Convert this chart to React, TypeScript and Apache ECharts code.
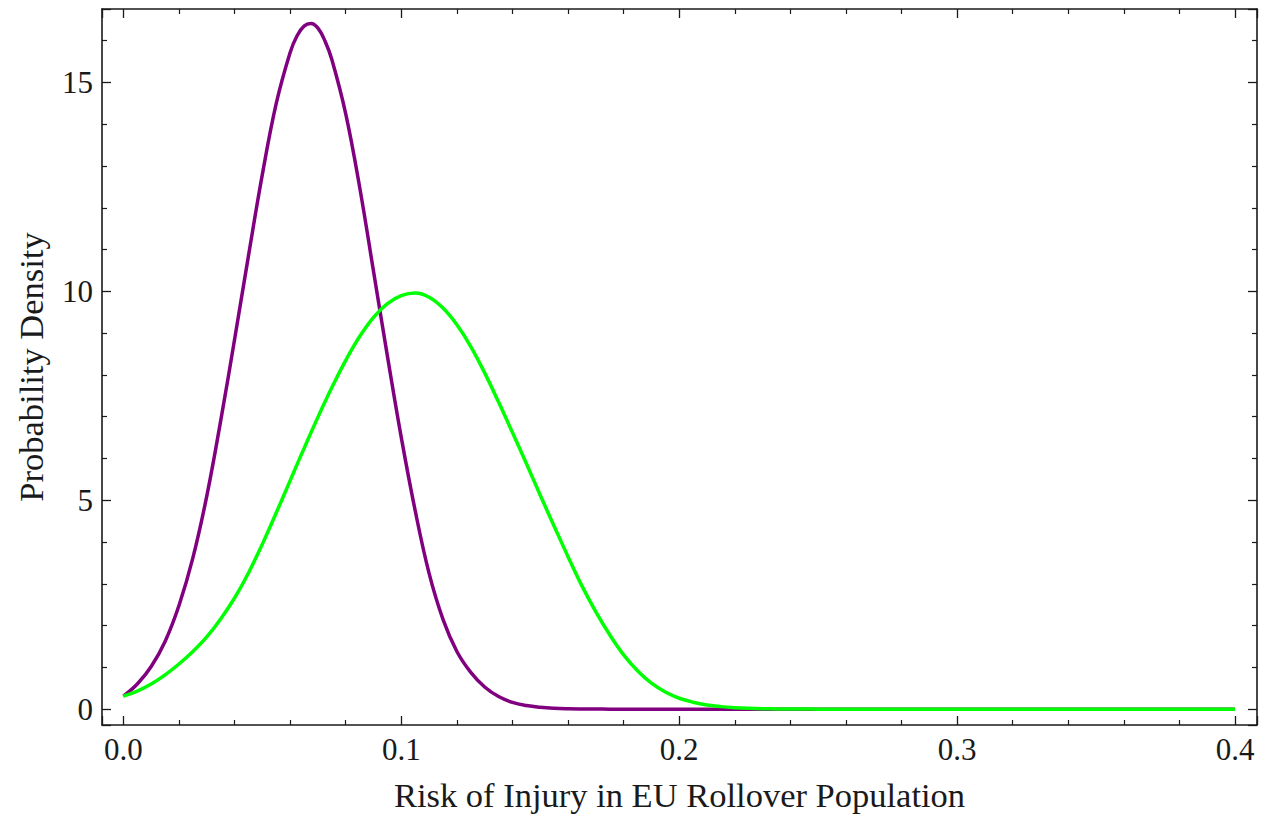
import React, { useEffect, useRef } from "react";
import * as echarts from "echarts";

const riskX = [
  0, 0.005, 0.01, 0.015, 0.02, 0.025, 0.03, 0.035, 0.04, 0.045,
  0.05, 0.055, 0.06, 0.0625, 0.065, 0.0675, 0.07, 0.0725, 0.075, 0.08,
  0.085, 0.09, 0.095, 0.1, 0.105, 0.11, 0.115, 0.12, 0.125, 0.13,
  0.135, 0.14, 0.145, 0.15, 0.155, 0.16, 0.165, 0.17, 0.175, 0.18,
  0.185, 0.19, 0.195, 0.2, 0.205, 0.21, 0.215, 0.22, 0.225, 0.23,
  0.235, 0.24, 0.245, 0.25, 0.3, 0.35, 0.4,
];

const purpleDensity = [
  0.31, 0.6, 1.02, 1.62, 2.48, 3.62, 5.1, 6.9, 8.85, 10.85,
  12.8, 14.5, 15.72, 16.12, 16.35, 16.41, 16.3, 16.0, 15.55, 14.25,
  12.5, 10.48, 8.45, 6.5, 4.75, 3.25, 2.15, 1.38, 0.88, 0.53,
  0.3, 0.16, 0.085, 0.043, 0.02, 0.009, 0.004, 0.0015, 0, 0,
  0, 0, 0, 0, 0, 0, 0, 0, 0, 0,
  0, 0, 0, 0, 0, 0, 0,
];

const greenDensity = [
  0.31, 0.43, 0.6, 0.82, 1.08, 1.38, 1.73, 2.16, 2.66, 3.26,
  3.95, 4.7, 5.47, 5.86, 6.24, 6.62, 6.99, 7.35, 7.7, 8.35,
  8.92, 9.38, 9.71, 9.9, 9.96, 9.86, 9.6, 9.2, 8.68, 8.05,
  7.35, 6.62, 5.88, 5.12, 4.38, 3.65, 2.95, 2.33, 1.78, 1.3,
  0.92, 0.62, 0.41, 0.26, 0.165, 0.1, 0.06, 0.035, 0.02, 0.011,
  0.006, 0.003, 0.001, 0, 0, 0, 0,
];

const xTitle = "Risk of Injury in EU Rollover Population";
const yTitle = "Probability Density";

const FONT = "'Liberation Serif', 'Times New Roman', serif";
const INK = "#1a1a1a";

export default function App() {
  const ref = useRef<HTMLDivElement>(null);

  useEffect(() => {
    if (!ref.current) return;
    const chart = echarts.init(ref.current, null, { renderer: "svg" });

    const frameLine = { show: true, lineStyle: { color: INK, width: 1.6 } };
    const tick = {
      show: true,
      inside: true,
      length: 9,
      lineStyle: { color: INK, width: 1.3 },
    };
    const minor = {
      show: true,
      splitNumber: 5,
      length: 5,
      lineStyle: { color: INK, width: 1.2 },
    };

    const xBase = {
      type: "value" as const,
      min: -0.0077,
      max: 0.4079,
      minInterval: 0.1,
      maxInterval: 0.1,
      axisLine: { ...frameLine, onZero: false },
      axisTick: tick,
      minorTick: minor,
      splitLine: { show: false },
    };
    const yBase = {
      type: "value" as const,
      min: -0.38,
      max: 16.76,
      minInterval: 5,
      maxInterval: 5,
      axisLine: { ...frameLine, onZero: false },
      axisTick: tick,
      minorTick: minor,
      splitLine: { show: false },
    };

    const lineSeries = (data: number[], color: string) => ({
      type: "line",
      xAxisIndex: 0,
      yAxisIndex: 0,
      data: riskX.map((x, i) => [x, data[i]]),
      showSymbol: false,
      smooth: 0.4,
      lineStyle: { color, width: 3.5 },
      itemStyle: { color },
    });

    chart.setOption({
      animation: false,
      backgroundColor: "#ffffff",
      grid: { left: 102, right: 11, top: 9, bottom: 95 },
      xAxis: [
        {
          ...xBase,
          position: "bottom",
          name: xTitle,
          nameLocation: "middle",
          nameGap: 52,
          nameTextStyle: { fontFamily: FONT, fontSize: 34.5, color: INK },
          axisLabel: {
            show: true,
            margin: 9,
            fontFamily: FONT,
            fontSize: 31,
            color: INK,
            showMinLabel: false,
            showMaxLabel: false,
            formatter: (v: number) => v.toFixed(1),
          },
        },
        {
          ...xBase,
          position: "top",
          axisLabel: { show: false },
        },
      ],
      yAxis: [
        {
          ...yBase,
          position: "left",
          name: yTitle,
          nameLocation: "middle",
          nameGap: 54,
          nameTextStyle: { fontFamily: FONT, fontSize: 34.5, color: INK },
          axisLabel: {
            show: true,
            margin: 9,
            fontFamily: FONT,
            fontSize: 31,
            color: INK,
            showMinLabel: false,
            showMaxLabel: false,
            formatter: (v: number) => String(Math.round(v)),
          },
        },
        {
          ...yBase,
          position: "right",
          axisLabel: { show: false },
        },
      ],
      series: [
        lineSeries(purpleDensity, "#800080"),
        lineSeries(greenDensity, "#00ff00"),
      ],
    });

    return () => chart.dispose();
  }, []);

  return (
    <div
      ref={ref}
      style={{ position: "absolute", left: 0, top: 0, width: 1268, height: 820 }}
    />
  );
}
